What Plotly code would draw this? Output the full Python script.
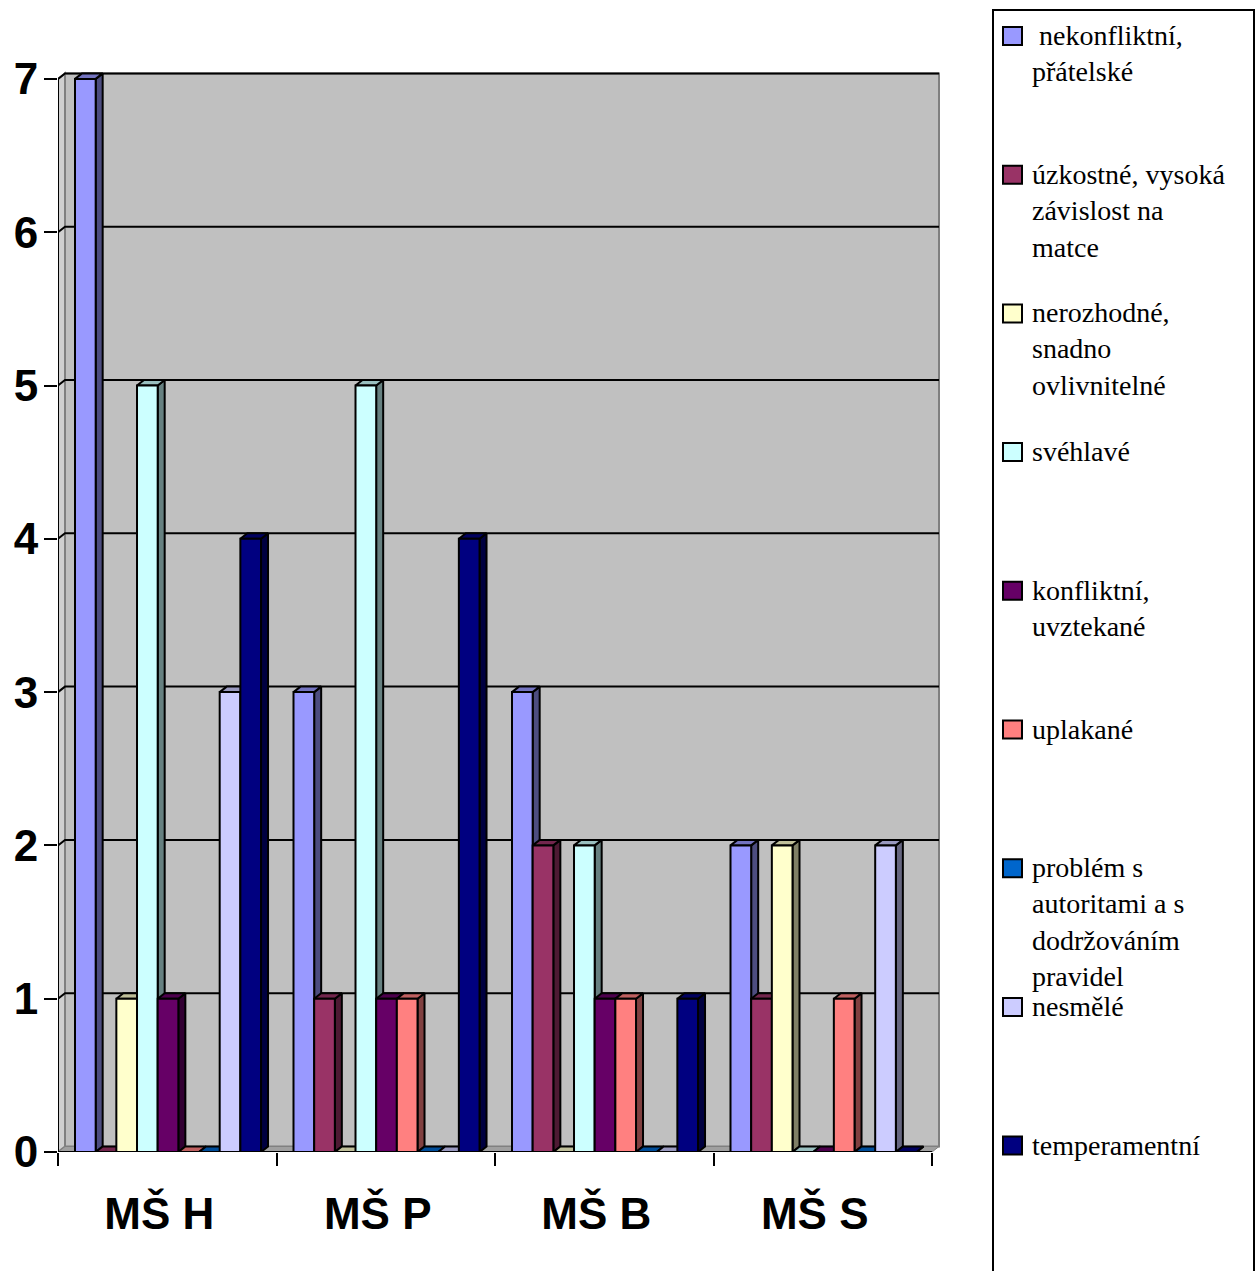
import plotly.graph_objects as go

# ---- data ----
categories = ["MŠ H", "MŠ P", "MŠ B", "MŠ S"]
series_names = [
    " nekonfliktní, přátelské",
    "úzkostné, vysoká závislost na matce",
    "nerozhodné, snadno ovlivnitelné",
    "svéhlavé",
    "konfliktní, uvztekané",
    "uplakané",
    "problém s autoritami a s dodržováním pravidel",
    "nesmělé",
    "temperamentní",
]
legend_labels = [
    " nekonfliktní,<br>přátelské",
    "úzkostné, vysoká<br>závislost na<br>matce",
    "nerozhodné,<br>snadno<br>ovlivnitelné",
    "svéhlavé",
    "konfliktní,<br>uvztekané",
    "uplakané",
    "problém s<br>autoritami a s<br>dodržováním<br>pravidel",
    "nesmělé",
    "temperamentní",
]
nekonfliktni = [7, 3, 3, 2]
uzkostne = [0, 1, 2, 1]
nerozhodne = [1, 0, 0, 2]
svehlave = [5, 5, 2, 0]
konfliktni = [1, 1, 1, 0]
uplakane = [0, 1, 1, 1]
problem_autority = [0, 0, 0, 0]
nesmele = [3, 0, 0, 2]
temperamentni = [4, 4, 1, 0]
series_values = [nekonfliktni, uzkostne, nerozhodne, svehlave, konfliktni,
                 uplakane, problem_autority, nesmele, temperamentni]
y_ticks = [0, 1, 2, 3, 4, 5, 6, 7]

# ---- style ----
front_colors = ["#9999FF", "#993366", "#FFFFCC", "#CCFFFF", "#660066",
                "#FF8080", "#0066CC", "#CCCCFF", "#000080"]
side_colors = ["#4D4D80", "#4D1A33", "#808066", "#668080", "#330033",
               "#804040", "#003366", "#666680", "#000040"]
top_colors = ["#7373BF", "#73264D", "#BFBF99", "#99BFBF", "#4D004D",
              "#BF6060", "#004D99", "#9999BF", "#000060"]

W, H = 1256, 1271
M_L, M_R, M_T, M_B = 58, 314, 70, 119
PX_PER_X = 218.5
PX_PER_Y = 153.3
X_MIN = -0.5
X_MAX = X_MIN + (W - M_L - M_R) / PX_PER_X
Y_MAX = (H - M_T - M_B) / PX_PER_Y
DX = 7 / PX_PER_X          # depth of the 3-D extrusion, horizontal
DY = 5.5 / PX_PER_Y        # depth of the 3-D extrusion, vertical
n_series = len(series_values)
BAR_W = 0.0946
GROUP_OFF = 17 / PX_PER_X
LABEL_SHIFT = 8 / PX_PER_X


def px_x(px):
    return (px - M_L) / (W - M_L - M_R)


def px_y(py):
    return 1 - (py - M_T) / (H - M_T - M_B)


fig = go.Figure()

# bars drawn as three polygons each (side, top, front), series by series
for j, vals in enumerate(series_values):
    sx, sy, tx, ty, fx, fy = [], [], [], [], [], []
    for i, v in enumerate(vals):
        x0 = i - 0.5 + GROUP_OFF + j * BAR_W
        x1 = x0 + BAR_W
        sx += [x1, x1 + DX, x1 + DX, x1, x1, None]
        sy += [0, DY, v + DY, v, 0, None]
        tx += [x0, x1, x1 + DX, x0 + DX, x0, None]
        ty += [v, v, v + DY, v + DY, v, None]
        fx += [x0, x1, x1, x0, x0, None]
        fy += [0, 0, v, v, 0, None]
    for xs, ys, col in ((sx, sy, side_colors[j]), (tx, ty, top_colors[j]),
                        (fx, fy, front_colors[j])):
        fig.add_trace(go.Scatter(
            x=xs, y=ys, mode="lines", fill="toself", fillcolor=col,
            line=dict(color="black", width=2), name=series_names[j],
            showlegend=False, hoverinfo="name",
        ))

shapes = []
# back wall, left wall and floor
shapes.append(dict(type="rect", xref="x", yref="y", layer="below",
                   x0=X_MIN + DX, x1=3.5 + DX, y0=DY, y1=7 + DY,
                   fillcolor="#C0C0C0", line=dict(color="#808080", width=2)))
shapes.append(dict(type="path", xref="x", yref="y", layer="below",
                   path=f"M {X_MIN},0 L {X_MIN + DX},{DY} L {X_MIN + DX},{7 + DY} L {X_MIN},7 Z",
                   fillcolor="#D0D0D0", line=dict(color="#808080", width=2)))
shapes.append(dict(type="path", xref="x", yref="y", layer="below",
                   path=f"M {X_MIN},0 L 3.5,0 L {3.5 + DX},{DY} L {X_MIN + DX},{DY} Z",
                   fillcolor="#A0A0A0", line=dict(color="#808080", width=1)))
# gridlines on the back wall
for v in y_ticks[1:]:
    shapes.append(dict(type="path", xref="x", yref="y", layer="below",
                       path=f"M {X_MIN},{v} L {X_MIN + DX},{v + DY} L {3.5 + DX},{v + DY}",
                       line=dict(color="black", width=2)))
# axis lines
shapes.append(dict(type="line", xref="x", yref="y", x0=X_MIN, x1=X_MIN,
                   y0=0, y1=7, line=dict(color="black", width=2)))
shapes.append(dict(type="line", xref="x", yref="y", x0=X_MIN, x1=3.5,
                   y0=0, y1=0, line=dict(color="black", width=2)))

# legend box
shapes.append(dict(type="rect", xref="paper", yref="paper",
                   x0=px_x(993), x1=px_x(1254), y0=px_y(10), y1=px_y(1300),
                   fillcolor="white", line=dict(color="black", width=2)))
annotations = []
LEG_TOP = 27
LEG_STEP = 138.7
for j, lab in enumerate(legend_labels):
    top = LEG_TOP + j * LEG_STEP
    shapes.append(dict(type="rect", xref="paper", yref="paper",
                       x0=px_x(1003), x1=px_x(1022), y0=px_y(top), y1=px_y(top + 18),
                       fillcolor=front_colors[j], line=dict(color="black", width=2)))
    annotations.append(dict(xref="paper", yref="paper", x=px_x(1030), y=px_y(top - 9),
                            xanchor="left", yanchor="top", align="left", showarrow=False,
                            text=lab, font=dict(family="Liberation Serif", size=28, color="black")))

fig.update_layout(
    width=W, height=H,
    margin=dict(l=M_L, r=M_R, t=M_T, b=M_B, pad=0, autoexpand=False),
    paper_bgcolor="white", plot_bgcolor="white",
    shapes=shapes, annotations=annotations,
    showlegend=False,
    xaxis=dict(range=[X_MIN, X_MAX], tickmode="array", automargin=False,
               tickvals=[k - LABEL_SHIFT for k in range(len(categories))],
               ticktext=categories,
               ticks="", showgrid=False, zeroline=False, showline=False,
               ticklabelstandoff=32,
               tickfont=dict(family="Liberation Sans", size=44, color="black", weight="bold"),
               minor=dict(tickmode="array", tickvals=[k - 0.5 for k in range(len(categories) + 1)],
                          ticks="outside", ticklen=13, tickwidth=2, tickcolor="black",
                          showgrid=False)),
    yaxis=dict(range=[0, Y_MAX], tickmode="array", tickvals=y_ticks, automargin=False,
               ticks="outside", ticklen=13, tickwidth=2, tickcolor="black",
               showgrid=False, zeroline=False, showline=False,
               ticklabelstandoff=-3,
               tickfont=dict(family="Liberation Sans", size=44, color="black", weight="bold")),
)

fig.write_html("out.html")
